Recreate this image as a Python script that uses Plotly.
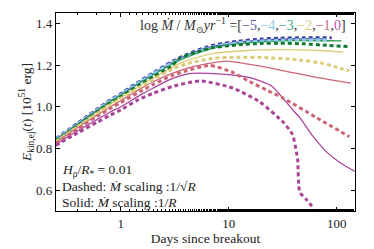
import plotly.graph_objects as go

# ---- data ----
t_m5s = [0.25, 0.4, 0.6, 0.8, 1.0, 1.5, 2, 3, 4, 6, 8, 12, 20, 30, 50, 80]
e_m5s = [0.845, 0.92, 0.985, 1.03, 1.06, 1.12, 1.16, 1.215, 1.245, 1.28, 1.296, 1.31, 1.32, 1.324, 1.326, 1.326]
t_m5d = [0.25, 0.4, 0.6, 0.8, 1.0, 1.5, 2, 3, 4, 6, 8, 12, 20, 30, 50, 90]
e_m5d = [0.847, 0.922, 0.988, 1.033, 1.063, 1.123, 1.163, 1.218, 1.249, 1.284, 1.3, 1.314, 1.325, 1.329, 1.331, 1.331]
t_m4s = [0.25, 0.4, 0.6, 0.8, 1.0, 1.5, 2, 3, 4, 6, 8, 12, 20, 30, 50, 85]
e_m4s = [0.842, 0.917, 0.982, 1.027, 1.057, 1.117, 1.157, 1.21, 1.24, 1.275, 1.29, 1.304, 1.313, 1.317, 1.319, 1.318]
t_m4d = [0.25, 0.4, 0.6, 0.8, 1.0, 1.5, 2, 3, 4, 6, 8, 12, 20, 30, 50, 85]
e_m4d = [0.843, 0.918, 0.984, 1.029, 1.059, 1.119, 1.159, 1.213, 1.243, 1.278, 1.293, 1.307, 1.316, 1.32, 1.322, 1.321]
t_m3s = [0.25, 0.4, 0.6, 0.8, 1.0, 1.5, 2, 3, 4, 6, 8, 12, 20, 30, 50, 111]
e_m3s = [0.84, 0.915, 0.98, 1.025, 1.055, 1.114, 1.153, 1.206, 1.236, 1.27, 1.288, 1.302, 1.312, 1.316, 1.318, 1.316]
t_m3d = [0.25, 0.4, 0.6, 0.8, 1.0, 1.5, 2, 3, 3.5, 5, 7, 12, 20, 30, 50, 75, 126]
e_m3d = [0.838, 0.912, 0.976, 1.02, 1.05, 1.108, 1.146, 1.2, 1.232, 1.262, 1.283, 1.297, 1.304, 1.305, 1.302, 1.296, 1.289]
t_m2s = [0.25, 0.4, 0.6, 0.8, 1.0, 1.5, 2, 3, 4, 7, 15, 30, 70, 115]
e_m2s = [0.835, 0.91, 0.972, 1.015, 1.045, 1.1, 1.138, 1.19, 1.22, 1.255, 1.27, 1.274, 1.27, 1.262]
t_m2d = [0.25, 0.4, 0.6, 0.8, 1.0, 1.5, 2, 3, 4, 7, 12, 20, 45, 75, 100, 130]
e_m2d = [0.833, 0.905, 0.967, 1.01, 1.04, 1.095, 1.132, 1.18, 1.205, 1.232, 1.238, 1.237, 1.225, 1.208, 1.19, 1.172]
t_m1s = [0.25, 0.4, 0.6, 0.8, 1.0, 1.5, 2, 3, 4, 6, 9.6, 15.7, 31.6, 60, 135]
e_m1s = [0.828, 0.9, 0.96, 1.0, 1.03, 1.085, 1.12, 1.16, 1.183, 1.205, 1.219, 1.203, 1.174, 1.145, 1.114]
t_m1d = [0.25, 0.4, 0.6, 0.8, 1.0, 1.5, 2, 3, 4, 6.7, 10.9, 15.7, 22.5, 31.6, 65, 131]
e_m1d = [0.825, 0.895, 0.953, 0.992, 1.02, 1.072, 1.107, 1.15, 1.172, 1.198, 1.165, 1.12, 1.08, 1.043, 0.948, 0.857]
t_0s = [0.25, 0.4, 0.6, 0.8, 1.0, 1.5, 2, 3, 4.5, 8, 15.7, 25, 31.6, 40, 45.6, 60, 80, 107, 147]
e_0s = [0.82, 0.885, 0.938, 0.975, 1.0, 1.055, 1.09, 1.135, 1.16, 1.158, 1.14, 1.1, 1.043, 0.98, 0.948, 0.86, 0.785, 0.733, 0.69]
t_0d = [0.25, 0.4, 0.6, 0.8, 1.0, 1.44, 2, 3, 5.4, 10.9, 19.3, 31.6, 39, 42.5, 43.5, 45.6, 52, 62]
e_0d = [0.815, 0.875, 0.925, 0.96, 0.985, 1.033, 1.065, 1.097, 1.124, 1.09, 1.024, 0.929, 0.867, 0.78, 0.748, 0.59, 0.557, 0.51]

labels = ["-5", "-4", "-3", "-2", "-1", "0"]
solid_colors = ["#4a4aa8", "#88ccee", "#2e9950", "#ddcc77", "#cc6677", "#aa4499"]
dash_colors = ["#3a3aa0", "#88ccee", "#117733", "#ddcc77", "#cc6677", "#aa4499"]
solids = [(t_m5s, e_m5s), (t_m4s, e_m4s), (t_m3s, e_m3s), (t_m2s, e_m2s), (t_m1s, e_m1s), (t_0s, e_0s)]
dashes = [(t_m5d, e_m5d), (t_m4d, e_m4d), (t_m3d, e_m3d), (t_m2d, e_m2d), (t_m1d, e_m1d), (t_0d, e_0d)]

x_ticks = [1, 10, 100]
y_ticks = [0.6, 0.8, 1.0, 1.2, 1.4]

fig = go.Figure()
for i in range(6):
    t, e = solids[i]
    fig.add_trace(go.Scatter(x=t, y=e, mode="lines", line=dict(color=solid_colors[i], width=1.3, shape="spline", smoothing=0.6),
                             showlegend=False, hoverinfo="skip"))
for i in range(6):
    t, e = dashes[i]
    fig.add_trace(go.Scatter(x=t, y=e, mode="lines", line=dict(color=dash_colors[i], width=3, dash="4px,3px", shape="spline", smoothing=0.6),
                             showlegend=False, hoverinfo="skip"))

font = "Liberation Serif, DejaVu Serif, serif"
axis_common = dict(showline=True, linecolor="black", linewidth=1.2, mirror="allticks", ticks="inside",
                   ticklen=4, tickcolor="black", showgrid=False, zeroline=False, automargin=False,
                   tickfont=dict(family=font, size=13, color="#222"))
fig.update_xaxes(type="log", range=[-0.6, 2.17], tickvals=x_ticks, ticktext=[str(v) for v in x_ticks],
                 minor=dict(ticks="inside", ticklen=2, tickcolor="black", showgrid=False),
                 title=dict(text="Days since breakout", font=dict(family=font, size=13.5, color="#222"), standoff=0),
                 **axis_common)
fig.update_yaxes(range=[0.5, 1.45], tickvals=y_ticks, ticktext=["0.6", "0.8", "1.0", "1.2", "1.4"],
                 title=dict(text="<i>E</i><sub>kin,ej</sub>(<i>t</i>) [10<sup>51</sup> erg]", font=dict(family=font, size=13.5, color="#222"), standoff=0),
                 **axis_common)

nums = ["−5", "−4", "−3", "−2", "−1", "0"]
leg_cols = ["#5555aa", "#88ccee", "#44aa77", "#ddcc77", "#cc6677", "#bb55aa"]
parts = [f"<span style='color:{c}'>{n}</span>" for n, c in zip(nums, leg_cols)]
legend_text = "log <i>Ṁ</i> / <i>M</i><sub>⊙</sub><i>yr</i><sup>−1</sup> =[" + ",".join(parts) + "]"
fig.add_annotation(text=legend_text, xref="paper", yref="paper", x=0.975, y=1.0, xanchor="right", yanchor="top",
                   showarrow=False, font=dict(family=font, size=14, color="#333"))

notes = ["<i>H</i><sub>ρ</sub>/<i>R</i><sub>*</sub> = 0.01",
         "Dashed: <i>Ṁ</i> scaling :1/√<i>R</i>",
         "Solid: <i>Ṁ</i> scaling :1/<i>R</i>"]
ys = [0.205, 0.125, 0.045]
for txt, yy in zip(notes, ys):
    fig.add_annotation(text=txt, xref="paper", yref="paper", x=0.015, y=yy, xanchor="left", yanchor="middle",
                       showarrow=False, font=dict(family=font, size=13.5, color="#222"))

fig.update_layout(width=374, height=249, margin=dict(l=56, r=19, t=13, b=38),
                  paper_bgcolor="white", plot_bgcolor="white", hovermode=False)
fig.write_html("out.html", config={"displayModeBar": False, "staticPlot": True},
               post_script="document.body.style.margin='0';document.body.style.overflow='hidden';")
